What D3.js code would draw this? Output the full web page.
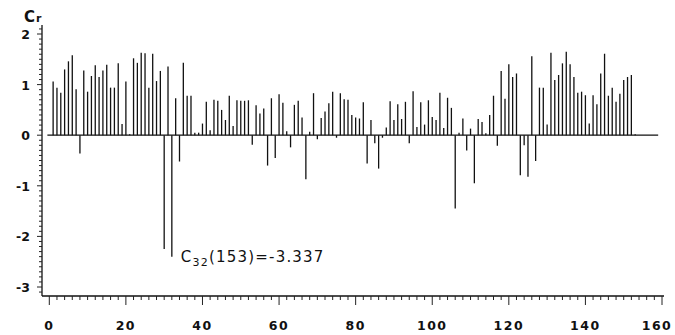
<!DOCTYPE html>
<html>
<head>
<meta charset="utf-8">
<script src="https://cdn.jsdelivr.net/npm/d3@7"></script>
<style>
  body { margin: 0; background: #fff; }
  svg { display: block; }
  .tick-label { font-family: "DejaVu Sans", sans-serif; font-weight: bold; font-size: 12.5px; fill: #111; }
</style>
</head>
<body>
<div id="area"></div>
<script>
// autocorrelation values Cr for lags 1..153
let cr = [
  1.06, 0.94, 0.84, 1.30, 1.46, 1.58, 0.91, -0.36, 1.28, 0.86,
  1.17, 1.38, 1.15, 1.28, 1.39, 0.94, 0.94, 1.42, 0.22, 1.06,
  0.02, 1.52, 1.43, 1.63, 1.62, 0.94, 1.61, 1.07, 1.27, -2.25,
  1.36, -2.40, 0.73, -0.52, 1.43, 0.78, 0.78, 0.05, 0.05, 0.23,
  0.66, 0.10, 0.70, 0.68, 0.50, 0.30, 0.78, 0.18, 0.69, 0.68,
  0.68, 0.69, -0.19, 0.59, 0.43, 0.53, -0.60, 0.73, -0.45, 0.81,
  0.64, 0.08, -0.24, 0.60, 0.68, 0.35, -0.87, 0.07, 0.83, -0.08,
  0.34, 0.47, 0.63, 0.86, -0.05, 0.83, 0.71, 0.70, 0.40, 0.35,
  0.33, 0.65, -0.56, 0.30, -0.16, -0.66, -0.05, 0.15, 0.67, 0.30,
  0.61, 0.32, 0.66, -0.16, 0.87, 0.16, 0.65, 0.21, 0.69, 0.36,
  0.30, 0.84, 0.14, 0.74, 0.54, -1.45, 0.05, 0.33, -0.30, 0.13,
  -0.95, 0.32, 0.26, 0.04, 0.40, 0.78, -0.21, 1.27, 0.72, 1.40,
  1.15, 1.22, -0.79, -0.20, -0.82, 1.56, -0.51, 0.94, 0.94, 0.21,
  1.63, 1.09, 1.19, 1.42, 1.65, 1.40, 1.15, 0.84, 0.86, 0.79,
  0.23, 0.79, 0.61, 1.22, 1.61, 0.78, 0.94, 0.66, 0.82, 1.09,
  1.15, 1.19, 0.02
]
let lags = d3.range(1, cr.length + 1)

let xTicks = [0, 20, 40, 60, 80, 100, 120, 140, 160]
let yTicks = [-3, -2, -1, 0, 1, 2]
let note = { lag: 32, sub: '32', text: '(153)=-3.337' }

let width = 675
let height = 335

let svg = d3.select('#area').append('svg')
  .attr('width', width)
  .attr('height', height)

let x = d3.scaleLinear().domain([0, 160]).range([49.3, 662])
let y = d3.scaleLinear().domain([-3, 2]).range([287, 34])

let axisX = 42
let axisY = 296

// y axis: line with minor ticks every 0.1 pointing left
svg.append('line')
  .attr('x1', axisX).attr('x2', axisX)
  .attr('y1', y(2.18)).attr('y2', axisY)
  .attr('stroke', '#111').attr('stroke-width', 1.3)

let yMinor = d3.range(-31, 22).map(d => d / 10)
svg.append('g').selectAll('line')
  .data(yMinor)
  .join('line')
  .attr('x1', d => Math.abs(d - Math.round(d)) < 1e-6 ? axisX - 5 : axisX - 3)
  .attr('x2', axisX)
  .attr('y1', d => y(d)).attr('y2', d => y(d))
  .attr('stroke', '#222').attr('stroke-width', 1)

svg.append('g').selectAll('text')
  .data(yTicks)
  .join('text')
  .attr('class', 'tick-label')
  .attr('x', 30)
  .attr('y', d => y(d) + 5)
  .attr('text-anchor', 'end')
  .text(d => d < 0 ? '-' + Math.abs(d) : d)

// x axis with minor ticks every 2
svg.append('line')
  .attr('x1', axisX).attr('x2', x(160) + 2)
  .attr('y1', axisY).attr('y2', axisY)
  .attr('stroke', '#111').attr('stroke-width', 1.3)

let xMinor = d3.range(0, 161, 2)
svg.append('g').selectAll('line')
  .data(xMinor)
  .join('line')
  .attr('x1', d => x(d)).attr('x2', d => x(d))
  .attr('y1', axisY)
  .attr('y2', d => d % 20 === 0 ? axisY + 9 : axisY + 4)
  .attr('stroke', '#222').attr('stroke-width', 1)

svg.append('g').selectAll('text')
  .data(xTicks)
  .join('text')
  .attr('class', 'tick-label')
  .attr('x', d => Math.min(x(d), 657))
  .attr('y', 330)
  .attr('text-anchor', 'middle')
  .attr('letter-spacing', '1.5px')
  .text(d => d)

// Cr axis title
let title = svg.append('text')
  .attr('x', 24).attr('y', 22)
  .attr('font-family', 'DejaVu Sans, sans-serif')
  .attr('font-weight', 'bold')
  .attr('fill', '#111')
title.append('tspan').attr('font-size', '15px').text('C')
title.append('tspan').attr('font-size', '11px').attr('dx', 1).text('r')

// zero baseline
svg.append('line')
  .attr('x1', x(-0.5)).attr('x2', x(159))
  .attr('y1', y(0)).attr('y2', y(0))
  .attr('stroke', '#111').attr('stroke-width', 1.2)

// stems
svg.append('g').selectAll('line')
  .data(lags)
  .join('line')
  .attr('x1', d => x(d)).attr('x2', d => x(d))
  .attr('y1', y(0))
  .attr('y2', (d, i) => y(cr[i]))
  .attr('stroke', '#111')
  .attr('stroke-width', 1.3)

// annotation for the deepest lag
let ann = svg.append('text')
  .attr('x', x(note.lag) + 9)
  .attr('y', 262)
  .attr('font-family', 'DejaVu Sans, sans-serif')
  .attr('font-size', '15px')
  .attr('letter-spacing', '1.2px')
  .attr('fill', '#111')
ann.append('tspan').text('C')
ann.append('tspan').attr('font-size', '11px').attr('dy', 4).text(note.sub)
ann.append('tspan').attr('dy', -4).text(note.text)
</script>
</body>
</html>
